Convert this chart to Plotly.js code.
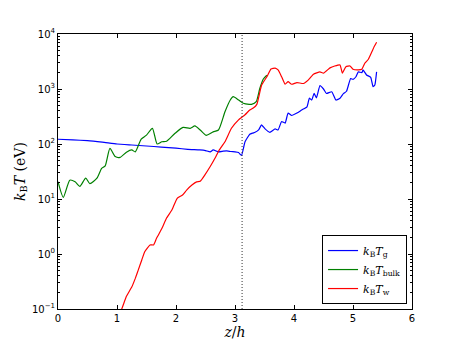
<!DOCTYPE html>
<html>
<head>
<meta charset="utf-8">
<script src="https://cdn.plot.ly/plotly-3.0.1.min.js"></script>
<style>
  body { margin: 0; background: white; }
  #chart { width: 458px; height: 345px; }
</style>
</head>
<body>
<div id="chart"></div>
<script>
// values, z/h vs kB T in eV
var zG = [0, 0.25, 0.5, 0.75, 1.0, 1.25, 1.5, 1.75, 2.0, 2.2, 2.4, 2.5, 2.58, 2.63, 2.72, 2.8, 2.86, 2.93, 3.0, 3.06, 3.11,
  3.17, 3.25, 3.3, 3.34, 3.4, 3.45, 3.51, 3.59, 3.68, 3.73, 3.79, 3.85, 3.9, 3.96, 4.05, 4.13, 4.22, 4.26, 4.3, 4.34, 4.38,
  4.44, 4.5, 4.55, 4.64, 4.71, 4.78, 4.84, 4.89, 4.96, 5.0, 5.05, 5.09, 5.15, 5.17, 5.23, 5.3, 5.34, 5.37, 5.4];
var tG = [122, 119, 115, 108, 100, 96, 92, 88, 84, 80, 78, 76, 72, 78, 72, 74, 75, 73, 72, 70, 62,
  110, 150, 158, 163, 180, 222, 188, 163, 188, 180, 256, 240, 365, 330, 365, 415, 475, 680, 630, 830, 690,
  1150, 1000, 830, 890, 630, 680, 830, 910, 1550, 1500, 1670, 2050, 1980, 2220, 1800, 1630, 1100, 1180, 2050];

var zBulk = [0, 0.09, 0.2, 0.29, 0.37, 0.47, 0.54, 0.66, 0.74, 0.8, 0.88, 0.97, 1.05, 1.16, 1.25, 1.31, 1.41, 1.5, 1.6, 1.68,
  1.76, 1.84, 1.98, 2.12, 2.24, 2.32, 2.41, 2.51, 2.63, 2.72, 2.83, 2.92, 2.97, 3.06, 3.14, 3.24, 3.28, 3.36, 3.42, 3.48, 3.54];
var tBulk = [20.6, 10.7, 22, 20.6, 17, 24, 19, 24, 36, 40, 83, 59, 57, 71, 78, 72, 123, 145, 193, 100,
  110, 112, 155, 200, 193, 213, 180, 144, 166, 180, 385, 630, 725, 630, 550, 525, 525, 590, 1020, 1520, 1780];

var zW = [0.98, 1.08, 1.16, 1.25, 1.31, 1.36, 1.42, 1.47, 1.56, 1.62, 1.67, 1.76, 1.84, 1.93, 2.02, 2.11, 2.18, 2.27, 2.35,
  2.41, 2.49, 2.58, 2.66, 2.73, 2.83, 2.94, 3.06, 3.17, 3.25, 3.31, 3.37, 3.45, 3.54, 3.61, 3.68, 3.73, 3.79, 3.85, 3.9,
  3.96, 4.05, 4.16, 4.24, 4.33, 4.44, 4.5, 4.61, 4.69, 4.78, 4.82, 4.88, 4.95, 5.0, 5.09, 5.15, 5.2, 5.26, 5.32, 5.36, 5.4];
var tW = [0.06, 0.1, 0.17, 0.25, 0.36, 0.51, 0.78, 1.1, 1.46, 1.46, 1.93, 2.9, 4.5, 6.3, 10.3, 11.8, 14.5, 17.9, 20.5,
  21, 27.5, 39, 55, 77, 110, 193, 275, 340, 415, 450, 525, 1170, 1670, 2300, 2400, 2220, 1670, 1220, 1360,
  1220, 1310, 1260, 1450, 1860, 2050, 1940, 2420, 2620, 2740, 1940, 2550, 2620, 2280, 2220, 2280, 2940, 3470, 4760, 5900, 7060];

var yTickVals = [0.1, 1, 10, 100, 1000, 10000];
var yTickText = ['10<sup>\u22121</sup>', '10<sup>0</sup>', '10<sup>1</sup>', '10<sup>2</sup>', '10<sup>3</sup>', '10<sup>4</sup>'];
var zMark = 3.12;

var serif = 'DejaVu Serif, serif';

var traceG = {
  type: 'scatter', mode: 'lines', x: zG, y: tG,
  name: '<i>k</i><sub>B</sub><i>T</i><sub>g</sub>',
  line: {color: '#0000ff', width: 1.2, shape: 'spline', smoothing: 0.4}
};
var traceBulk = {
  type: 'scatter', mode: 'lines', x: zBulk, y: tBulk,
  name: '<i>k</i><sub>B</sub><i>T</i><sub>bulk</sub>',
  line: {color: '#008000', width: 1.2, shape: 'spline', smoothing: 0.6}
};
var traceW = {
  type: 'scatter', mode: 'lines', x: zW, y: tW,
  name: '<i>k</i><sub>B</sub><i>T</i><sub>w</sub>',
  line: {color: '#ff0000', width: 1.2, shape: 'spline', smoothing: 0.4}
};

var layout = {
  width: 458,
  height: 345,
  margin: {l: 58, r: 46, t: 34, b: 36},
  paper_bgcolor: 'white',
  plot_bgcolor: 'white',
  font: {family: 'DejaVu Sans, sans-serif', size: 10, color: 'black'},
  showlegend: true,
  legend: {
    x: 0.986, y: 0.018, xanchor: 'right', yanchor: 'bottom',
    bgcolor: 'white', bordercolor: 'black', borderwidth: 1,
    font: {family: serif, size: 11},
    tracegroupgap: 0
  },
  xaxis: {
    range: [0, 6],
    dtick: 1,
    showgrid: false, zeroline: false,
    showline: true, linecolor: 'black', linewidth: 1, mirror: 'allticks',
    ticks: 'inside', ticklen: 4, tickcolor: 'black',
    title: {text: '<i>z</i>/<i>h</i>', font: {family: serif, size: 14}, standoff: 4}
  },
  yaxis: {
    type: 'log',
    range: [-1, 4],
    tickmode: 'array', tickvals: yTickVals, ticktext: yTickText,
    showgrid: false, zeroline: false,
    showline: true, linecolor: 'black', linewidth: 1, mirror: 'allticks',
    ticks: 'inside', ticklen: 4, tickcolor: 'black',
    minor: {ticks: 'inside', ticklen: 2, tickcolor: 'black', dtick: 'D1', showgrid: false},
    title: {text: '<i>k</i><sub>B</sub><i>T</i> (eV)', font: {family: serif, size: 14}, standoff: 3}
  },
  shapes: [{
    type: 'line', xref: 'x', yref: 'paper',
    x0: zMark, x1: zMark, y0: 0, y1: 1,
    line: {color: '#333333', width: 1, dash: '1px,2px'}
  }]
};

Plotly.newPlot('chart', [traceG, traceBulk, traceW], layout, {displayModeBar: false, staticPlot: true});
</script>
</body>
</html>
